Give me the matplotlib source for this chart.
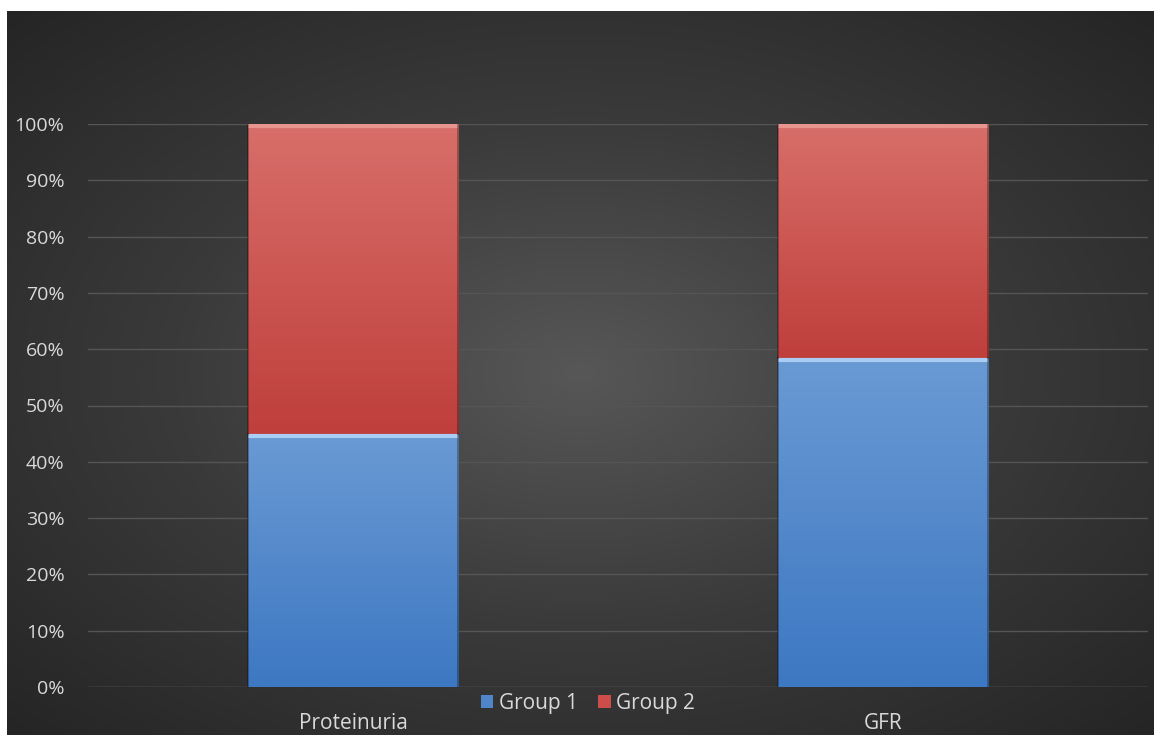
import numpy as np
import matplotlib.pyplot as plt
from matplotlib.colors import LinearSegmentedColormap

categories = ['Proteinuria', 'GFR']
group1 = [45.0, 58.5]
group2 = [55.0, 41.5]
series_names = ['Group 1', 'Group 2']
yticks = [0, 10, 20, 30, 40, 50, 60, 70, 80, 90, 100]

plt.rcParams['font.family'] = ['Open Sans', 'DejaVu Sans']

fig = plt.figure(figsize=(11.54, 7.35), dpi=100, facecolor='white')

# radial gradient background
bg = fig.add_axes([7 / 1154, 0, 1 - 7 / 1154, (735 - 11) / 735])
bg.set_axis_off()
yy, xx = np.mgrid[-1:1:300j, -1:1:450j]
r = np.sqrt(xx ** 2 + yy ** 2) / np.sqrt(2)
bgcm = LinearSegmentedColormap.from_list('bg', ['#575757', '#3a3a3a', '#252525'])
bg.imshow(r, cmap=bgcm, aspect='auto', extent=[0, 1, 0, 1], vmin=0, vmax=1)
bg.set_xlim(0, 1)
bg.set_ylim(0, 1)

ax = fig.add_axes([88 / 1154, (735 - 687) / 735, (1148 - 88) / 1154, (687 - 124) / 735])
ax.patch.set_alpha(0)
x = np.arange(len(categories))
w = 0.398

for t in yticks:
    ax.axhline(t, color='#555555' if t else '#6a6a6a', lw=1, zorder=1)

blue_cm = LinearSegmentedColormap.from_list('b', ['#3d78c2', '#6a9ad4'])
red_cm = LinearSegmentedColormap.from_list('r', ['#bf3f3c', '#d86e69'])

b1 = ax.bar(x, group1, w, color='#4f86c9', zorder=2, label=series_names[0])
b2 = ax.bar(x, group2, w, bottom=group1, color='#cc4d49', zorder=2, label=series_names[1])

grad = np.linspace(0, 1, 100).reshape(-1, 1)
for bars, cm in [(b1, blue_cm), (b2, red_cm)]:
    for p in bars:
        x0, y0 = p.get_x(), p.get_y()
        im = ax.imshow(grad, cmap=cm, origin='lower', aspect='auto',
                       extent=[x0, x0 + p.get_width(), y0, y0 + p.get_height()], zorder=3)
        im.set_clip_path(p)
        # bevel edges
        ax.plot([x0, x0 + p.get_width()], [y0 + p.get_height() - 0.35] * 2,
                color='#e8948f' if cm is red_cm else '#a9cdf5', lw=3, zorder=4,
                solid_capstyle='butt')
        ax.plot([x0, x0], [y0, y0 + p.get_height()], color='#00000055', lw=1.2, zorder=4)
        ax.plot([x0 + p.get_width()] * 2, [y0, y0 + p.get_height()], color='#00000055', lw=1.2, zorder=4)
ax.set_xlim(-0.5, 1.5)
ax.set_ylim(0, 100)

ax.set_yticks(yticks)
ax.set_yticklabels([f'{t}%' for t in yticks])
ax.set_xticks(x)
ax.set_xticklabels(categories)
ax.tick_params(axis='y', length=0, pad=17, labelsize=14, labelcolor='#d9d9d9')
ax.tick_params(axis='x', length=0, pad=19, labelsize=15, labelcolor='#d9d9d9')
for s in ax.spines.values():
    s.set_visible(False)

leg = fig.legend(handles=[b1, b2], labels=series_names, loc='center',
                 bbox_to_anchor=(588 / 1154, (735 - 703) / 735), ncol=2, frameon=False,
                 fontsize=15, labelcolor='#d9d9d9', handlelength=0.6, handleheight=0.6,
                 handletextpad=0.25, columnspacing=1.0)

fig.savefig('out.png', dpi=100, facecolor='white')
